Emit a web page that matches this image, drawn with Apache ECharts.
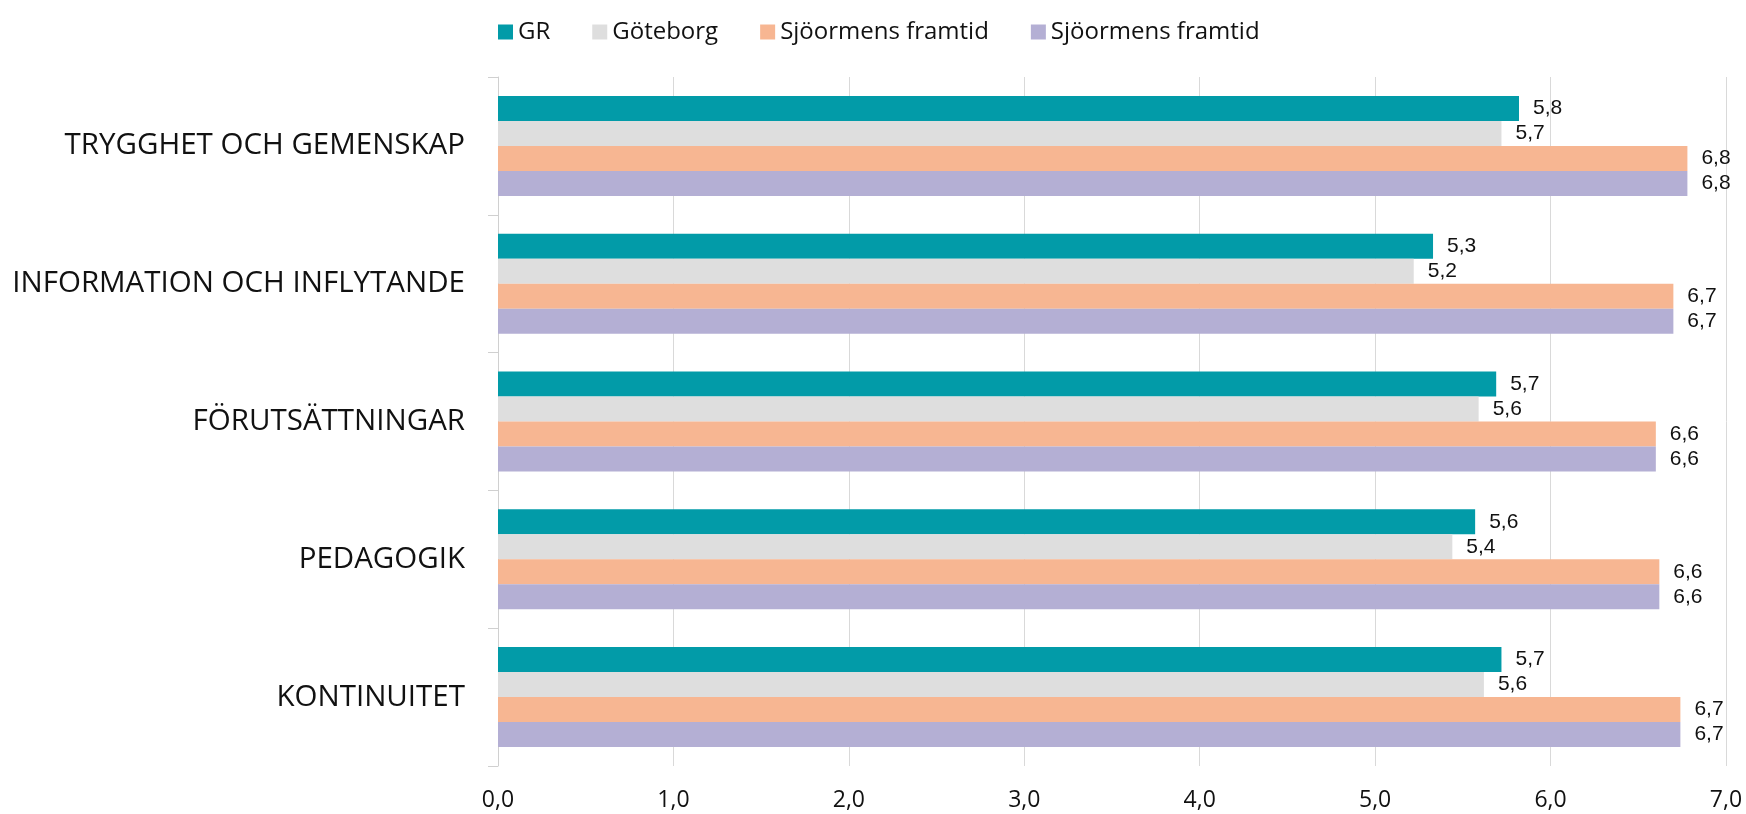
<!DOCTYPE html>
<html>
<head>
<meta charset="utf-8">
<script src="https://cdn.jsdelivr.net/npm/echarts@6/dist/echarts.min.js"></script>
<style>html,body{margin:0;padding:0;background:#fff}#c{width:1746px;height:814px}</style>
</head>
<body>
<div id="c"></div>
<script>
const categories = ['TRYGGHET OCH GEMENSKAP', 'INFORMATION OCH INFLYTANDE', 'FÖRUTSÄTTNINGAR', 'PEDAGOGIK', 'KONTINUITET'];
const seriesNames = ['GR', 'Göteborg', 'Sjöormens framtid', 'Sjöormens framtid'];
const grValues = [5.82, 5.33, 5.69, 5.57, 5.72];
const goteborgValues = [5.72, 5.22, 5.59, 5.44, 5.62];
const sjo1Values = [6.78, 6.70, 6.60, 6.62, 6.74];
const sjo2Values = [6.78, 6.70, 6.60, 6.62, 6.74];
const xTicks = [0, 1, 2, 3, 4, 5, 6, 7];

const colors = ['#029BA8', '#DEDEDE', '#F7B692', '#B4AFD4'];
const allValues = [grValues, goteborgValues, sjo1Values, sjo2Values];

const chart = echarts.init(document.getElementById('c'));
chart.setOption({
  animation: false,
  color: colors,
  legend: {
    left: 493, top: 15,
    itemWidth: 15, itemHeight: 15, itemGap: 42,
    icon: 'rect',
    textStyle: { fontFamily: 'Open Sans', fontSize: 24, color: '#111' },
    data: [
      { name: 'GR' }, { name: 'Göteborg' }, { name: 'Sjöormens framtid' }, { name: 'Sjöormens framtid ' }
    ]
  },
  grid: { left: 498, right: 20, top: 77, bottom: 48, containLabel: false },
  xAxis: {
    type: 'value', min: 0, max: 7, interval: 1,
    axisLine: { show: false }, axisTick: { show: false },
    splitLine: { lineStyle: { color: '#D9D9D9', width: 1 } },
    axisLabel: {
      margin: 23, fontFamily: 'Open Sans', fontSize: 23, color: '#111',
      formatter: v => xTicks.includes(v) ? v.toFixed(1).replace('.', ',') : ''
    }
  },
  yAxis: {
    type: 'category', inverse: true, data: categories,
    axisLine: { show: true, lineStyle: { color: '#D0D0D0' } },
    axisTick: { show: true, length: 10, lineStyle: { color: '#D0D0D0' } },
    axisLabel: { margin: 33, fontFamily: 'Open Sans', fontSize: 29.5, color: '#111' }
  },
  series: allValues.map((vals, i) => ({
    name: i === 3 ? 'Sjöormens framtid ' : seriesNames[i],
    type: 'bar',
    data: vals,
    barWidth: 25,
    barGap: '0%',
    itemStyle: { color: colors[i] },
    label: {
      show: true, position: 'right', distance: 14,
      fontFamily: 'Liberation Sans', fontSize: 21, color: '#111',
      formatter: p => p.value.toFixed(1).replace('.', ',')
    }
  }))
});
</script>
</body>
</html>
